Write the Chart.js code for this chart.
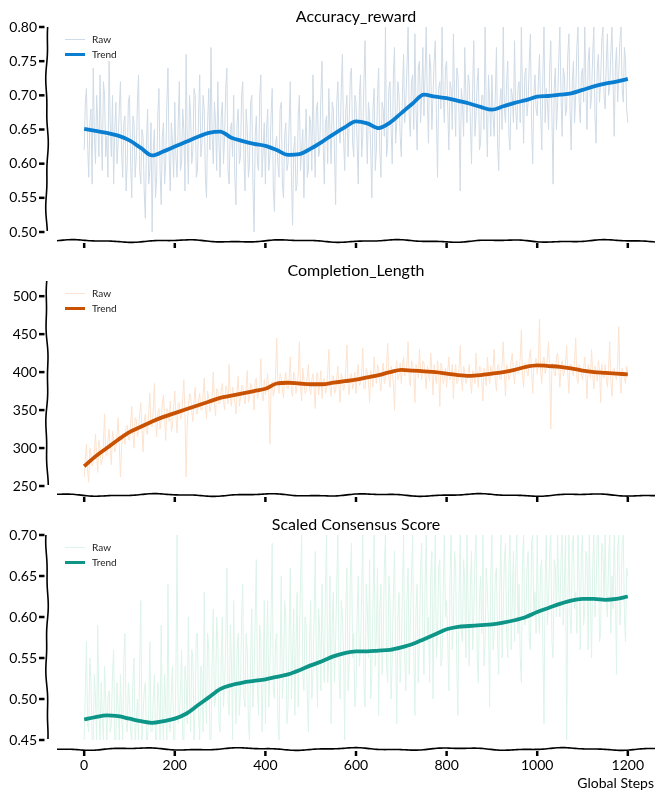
<!DOCTYPE html>
<html>
<head>
<meta charset="utf-8">
<script src="https://cdn.jsdelivr.net/npm/chart.js@4.4.1/dist/chart.umd.min.js"></script>
<style>
  html, body { margin: 0; padding: 0; background: #fff; }
  #wrap { position: relative; width: 655px; height: 792px; }
  canvas { position: absolute; left: 0; }
</style>
</head>
<body>
<div id="wrap">
  <canvas id="accChart" width="655" height="254" style="top:0"></canvas>
  <canvas id="lenChart" width="655" height="254" style="top:254px"></canvas>
  <canvas id="consChart" width="655" height="284" style="top:508px"></canvas>
</div>
<script>
const FONT = "'Comic Sans MS', 'Humor Sans', Lato, sans-serif";

// x positions: raw read every 2.5 steps, trend every 25 steps
const rawSteps = Array.from({ length: 481 }, (_, i) => i * 2.5);
const trendSteps = Array.from({ length: 49 }, (_, i) => i * 25);
const xTicks = [0, 200, 400, 600, 800, 1000, 1200];

// one row = 50 steps
const accRaw = [
  0.62,0.69, 0.71,0.63, 0.58,0.66, 0.68,0.57, 0.74,0.64, 0.60,0.70, 0.66,0.61, 0.73,0.65, 0.59,0.72, 0.70,0.61,
  0.64,0.58, 0.75,0.66, 0.61,0.70, 0.57,0.65, 0.69,0.60, 0.63,0.68, 0.72,0.62, 0.58,0.66, 0.67,0.56, 0.60,0.69,
  0.70,0.60, 0.55,0.67, 0.66,0.58, 0.61,0.69, 0.73,0.59, 0.57,0.65, 0.64,0.56, 0.52,0.63, 0.68,0.57, 0.59,0.66,
  0.50,0.62, 0.65,0.55, 0.58,0.67, 0.71,0.59, 0.54,0.64, 0.66,0.57, 0.60,0.69, 0.74,0.61, 0.56,0.66, 0.63,0.58,
  0.69,0.61, 0.58,0.66, 0.72,0.59, 0.60,0.68, 0.65,0.56, 0.76,0.63, 0.57,0.70, 0.67,0.60, 0.62,0.71, 0.70,0.58,
  0.59,0.67, 0.73,0.61, 0.63,0.70, 0.68,0.58, 0.55,0.66, 0.71,0.62, 0.77,0.64, 0.60,0.69, 0.66,0.59, 0.72,0.63,
  0.58,0.67, 0.69,0.60, 0.64,0.71, 0.74,0.59, 0.57,0.65, 0.66,0.61, 0.70,0.58, 0.54,0.66, 0.68,0.60, 0.61,0.70,
  0.72,0.61, 0.56,0.68, 0.65,0.58, 0.60,0.69, 0.70,0.57, 0.50,0.64, 0.67,0.60, 0.59,0.70, 0.73,0.58, 0.62,0.66,
  0.57,0.65, 0.68,0.59, 0.61,0.67, 0.71,0.56, 0.53,0.63, 0.64,0.60, 0.58,0.68, 0.69,0.57, 0.55,0.64, 0.66,0.59,
  0.60,0.66, 0.72,0.58, 0.51,0.62, 0.64,0.56, 0.57,0.67, 0.70,0.59, 0.62,0.65, 0.55,0.63, 0.68,0.58, 0.59,0.67,
  0.66,0.59, 0.73,0.64, 0.58,0.68, 0.69,0.61, 0.62,0.70, 0.75,0.63, 0.57,0.66, 0.67,0.60, 0.71,0.65, 0.60,0.69,
  0.68,0.62, 0.54,0.69, 0.72,0.65, 0.63,0.71, 0.76,0.64, 0.59,0.68, 0.70,0.61, 0.66,0.73, 0.74,0.63, 0.61,0.70,
  0.69,0.63, 0.57,0.70, 0.73,0.61, 0.64,0.72, 0.78,0.66, 0.60,0.69, 0.67,0.62, 0.55,0.68, 0.71,0.59, 0.62,0.70,
  0.74,0.62, 0.58,0.69, 0.68,0.64, 0.80,0.61, 0.63,0.71, 0.72,0.65, 0.60,0.73, 0.77,0.63, 0.66,0.72, 0.70,0.64,
  0.61,0.70, 0.76,0.66, 0.69,0.74, 0.80,0.67, 0.64,0.72, 0.73,0.65, 0.79,0.68, 0.62,0.74, 0.75,0.66, 0.70,0.77,
  0.67,0.73, 0.80,0.69, 0.63,0.76, 0.74,0.65, 0.70,0.75, 0.78,0.67, 0.58,0.71, 0.72,0.68, 0.80,0.70, 0.66,0.74,
  0.75,0.68, 0.62,0.72, 0.71,0.65, 0.79,0.70, 0.64,0.74, 0.73,0.67, 0.56,0.71, 0.69,0.64, 0.77,0.70, 0.66,0.73,
  0.72,0.66, 0.60,0.71, 0.78,0.64, 0.67,0.72, 0.74,0.62, 0.63,0.70, 0.70,0.65, 0.80,0.68, 0.61,0.73, 0.69,0.64,
  0.73,0.67, 0.64,0.70, 0.77,0.63, 0.59,0.69, 0.71,0.65, 0.80,0.68, 0.66,0.72, 0.75,0.64, 0.62,0.71, 0.70,0.66,
  0.78,0.68, 0.65,0.71, 0.72,0.66, 0.80,0.70, 0.63,0.73, 0.74,0.67, 0.69,0.75, 0.79,0.66, 0.60,0.70, 0.73,0.68,
  0.67,0.72, 0.76,0.68, 0.62,0.73, 0.80,0.66, 0.71,0.69, 0.65,0.74, 0.78,0.67, 0.57,0.71, 0.74,0.65, 0.69,0.75,
  0.80,0.70, 0.64,0.74, 0.73,0.67, 0.68,0.76, 0.79,0.68, 0.62,0.72, 0.75,0.66, 0.70,0.77, 0.80,0.69, 0.66,0.73,
  0.74,0.69, 0.80,0.71, 0.65,0.75, 0.77,0.68, 0.70,0.76, 0.80,0.67, 0.63,0.74, 0.76,0.69, 0.72,0.78, 0.80,0.70,
  0.68,0.75, 0.79,0.70, 0.71,0.76, 0.80,0.72, 0.64,0.74, 0.77,0.69, 0.73,0.78, 0.80,0.71, 0.69,0.77, 0.75,0.68,
  0.66
];
const accTrend = [
  0.651, 0.648, 0.645, 0.641, 0.634, 0.623, 0.612, 0.618, 0.625, 0.632,
  0.639, 0.645, 0.647, 0.638, 0.633, 0.629, 0.626, 0.620, 0.613, 0.614,
  0.622, 0.632, 0.643, 0.653, 0.662, 0.659, 0.652, 0.660, 0.674, 0.688,
  0.701, 0.698, 0.696, 0.692, 0.688, 0.683, 0.679, 0.684, 0.689, 0.693,
  0.698, 0.699, 0.701, 0.703, 0.708, 0.713, 0.717, 0.720, 0.724
];

const lenRaw = [
  262,285, 305,270, 255,300, 290,276, 280,295, 318,288, 268,310, 300,278, 285,305, 345,292,
  290,310, 325,298, 278,322, 312,295, 300,318, 340,305, 262,300, 320,315, 305,328, 330,312,
  310,332, 355,318, 300,340, 338,315, 322,345, 360,325, 295,335, 345,320, 318,348, 372,330,
  328,350, 385,338, 315,345, 352,325, 336,358, 370,340, 310,352, 348,335, 362,322, 330,355,
  375,342, 320,360, 358,338, 340,365, 390,345, 262,330, 352,372, 368,348, 335,362, 380,345,
  345,362, 372,350, 350,370, 392,355, 338,375, 365,348, 355,368, 400,360, 342,378, 375,358,
  360,375, 385,362, 350,382, 378,358, 410,368, 355,380, 372,360, 345,376, 395,355, 365,382,
  382,368, 358,378, 402,360, 366,385, 380,372, 350,388, 392,365, 372,380, 418,370, 362,390,
  370,385, 398,372, 305,380, 388,368, 376,395, 445,382, 372,398, 392,378, 366,390, 400,380,
  378,392, 420,375, 368,400, 395,372, 383,398, 440,380, 362,405, 390,372, 375,395, 410,378,
  370,390, 398,378, 352,395, 400,370, 385,402, 365,388, 392,372, 378,398, 430,380, 368,395,
  395,372, 375,392, 408,380, 360,398, 392,376, 380,405, 436,382, 370,396, 398,378, 385,400,
  372,395, 410,382, 385,400, 432,378, 378,405, 400,388, 360,402, 395,380, 420,398, 385,410,
  405,388, 375,400, 412,385, 392,410, 438,392, 380,408, 400,385, 350,402, 415,390, 395,412,
  385,408, 420,395, 398,412, 440,390, 382,415, 410,398, 360,410, 405,392, 430,405, 390,415,
  412,395, 378,408, 400,388, 425,402, 370,410, 395,385, 415,398, 355,412, 405,385, 392,405,
  380,402, 420,390, 395,410, 365,398, 410,385, 388,405, 435,392, 375,408, 400,385, 390,400,
  410,388, 372,402, 398,385, 425,398, 380,408, 405,390, 362,405, 395,382, 420,398, 385,408,
  395,405, 430,390, 375,408, 410,392, 390,412, 440,398, 368,410, 405,390, 395,415, 425,400,
  385,408, 415,398, 400,418, 455,395, 380,412, 410,400, 395,420, 430,402, 372,410, 412,418,
  398,412, 470,400, 385,415, 420,398, 405,418, 440,402, 325,412, 410,398, 395,420, 425,405,
  380,408, 415,395, 400,412, 435,398, 372,410, 410,400, 395,415, 445,392, 385,410, 405,398,
  390,405, 420,395, 365,410, 405,392, 430,398, 378,408, 400,388, 415,402, 360,410, 395,392,
  410,392, 380,405, 440,388, 368,402, 405,395, 390,410, 460,390, 372,405, 400,392, 385,408,
  400
];
const lenTrend = [
  276, 289, 300, 311, 321, 328, 335, 341, 346, 351,
  356, 361, 366, 369, 372, 375, 378, 385, 386, 385,
  384, 384, 386, 388, 390, 393, 396, 400, 403, 402,
  401, 400, 398, 396, 395, 396, 398, 400, 403, 407,
  409, 408, 407, 405, 402, 400, 399, 398, 397
];

const consRaw = [
  0.45,0.51, 0.57,0.47, 0.46,0.55, 0.52,0.45, 0.45,0.53, 0.50,0.45, 0.59,0.49, 0.45,0.52, 0.48,0.45, 0.54,0.50,
  0.45,0.50, 0.51,0.46, 0.47,0.53, 0.56,0.45, 0.45,0.52, 0.49,0.45, 0.53,0.48, 0.45,0.55, 0.58,0.47, 0.46,0.52,
  0.50,0.46, 0.45,0.52, 0.55,0.45, 0.47,0.50, 0.45,0.54, 0.62,0.45, 0.48,0.51, 0.52,0.45, 0.45,0.49, 0.57,0.46,
  0.46,0.50, 0.53,0.45, 0.45,0.52, 0.50,0.45, 0.59,0.48, 0.45,0.53, 0.49,0.45, 0.64,0.47, 0.46,0.51, 0.54,0.45,
  0.45,0.53, 0.70,0.47, 0.48,0.51, 0.56,0.45, 0.45,0.54, 0.52,0.47, 0.60,0.50, 0.46,0.56, 0.55,0.45, 0.49,0.58,
  0.58,0.48, 0.45,0.54, 0.53,0.46, 0.63,0.51, 0.47,0.58, 0.56,0.45, 0.45,0.55, 0.61,0.49, 0.50,0.60, 0.57,0.47,
  0.46,0.55, 0.60,0.49, 0.52,0.57, 0.66,0.50, 0.48,0.59, 0.55,0.45, 0.62,0.52, 0.47,0.56, 0.58,0.48, 0.51,0.60,
  0.64,0.50, 0.49,0.58, 0.56,0.47, 0.45,0.55, 0.61,0.49, 0.53,0.60, 0.67,0.51, 0.48,0.59, 0.57,0.46, 0.52,0.62,
  0.47,0.56, 0.62,0.49, 0.54,0.60, 0.69,0.51, 0.50,0.57, 0.58,0.48, 0.45,0.55, 0.65,0.50, 0.53,0.62, 0.60,0.47,
  0.49,0.58, 0.66,0.50, 0.55,0.61, 0.48,0.56, 0.63,0.49, 0.57,0.64, 0.70,0.53, 0.51,0.60, 0.59,0.50, 0.46,0.57,
  0.62,0.50, 0.53,0.60, 0.68,0.55, 0.49,0.61, 0.58,0.51, 0.64,0.57, 0.52,0.63, 0.70,0.52, 0.55,0.65, 0.47,0.59,
  0.63,0.52, 0.57,0.64, 0.70,0.53, 0.50,0.62, 0.60,0.56, 0.45,0.61, 0.66,0.51, 0.54,0.65, 0.69,0.55, 0.58,0.49,
  0.51,0.60, 0.65,0.54, 0.56,0.63, 0.70,0.52, 0.49,0.64, 0.61,0.55, 0.67,0.50, 0.53,0.62, 0.70,0.54, 0.58,0.66,
  0.48,0.61, 0.64,0.53, 0.57,0.66, 0.70,0.54, 0.52,0.65, 0.62,0.50, 0.55,0.63, 0.68,0.56, 0.47,0.60, 0.63,0.52,
  0.56,0.63, 0.70,0.55, 0.51,0.62, 0.66,0.53, 0.59,0.65, 0.70,0.56, 0.48,0.61, 0.64,0.52, 0.57,0.66, 0.69,0.58,
  0.53,0.64, 0.70,0.57, 0.60,0.52, 0.65,0.68, 0.50,0.62, 0.70,0.55, 0.58,0.66, 0.67,0.54, 0.55,0.63, 0.70,0.60,
  0.62,0.57, 0.51,0.65, 0.70,0.56, 0.59,0.68, 0.66,0.54, 0.48,0.63, 0.70,0.58, 0.57,0.67, 0.64,0.55, 0.70,0.61,
  0.54,0.64, 0.68,0.56, 0.60,0.67, 0.70,0.55, 0.52,0.62, 0.65,0.58, 0.70,0.54, 0.57,0.66, 0.63,0.59, 0.49,0.65,
  0.70,0.56, 0.58,0.65, 0.66,0.57, 0.53,0.64, 0.70,0.55, 0.61,0.67, 0.69,0.58, 0.55,0.66, 0.70,0.56, 0.62,0.68,
  0.57,0.66, 0.70,0.58, 0.64,0.55, 0.52,0.67, 0.70,0.59, 0.60,0.66, 0.68,0.57, 0.56,0.69, 0.70,0.60, 0.63,0.58,
  0.70,0.61, 0.58,0.66, 0.67,0.56, 0.47,0.64, 0.70,0.59, 0.62,0.68, 0.70,0.57, 0.55,0.67, 0.66,0.60, 0.70,0.63,
  0.60,0.67, 0.70,0.59, 0.64,0.70, 0.45,0.62, 0.70,0.60, 0.58,0.69, 0.70,0.61, 0.63,0.58, 0.70,0.65, 0.56,0.68,
  0.70,0.59, 0.61,0.68, 0.67,0.56, 0.70,0.62, 0.55,0.66, 0.70,0.60, 0.63,0.70, 0.70,0.57, 0.58,0.69, 0.68,0.62,
  0.70,0.62, 0.60,0.67, 0.70,0.58, 0.65,0.61, 0.70,0.64, 0.53,0.68, 0.70,0.59, 0.62,0.69, 0.70,0.60, 0.57,0.66,
  0.65
];
const consTrend = [
  0.475, 0.478, 0.480, 0.479, 0.476, 0.473, 0.471, 0.473, 0.476, 0.482,
  0.492, 0.502, 0.512, 0.517, 0.520, 0.522, 0.524, 0.527, 0.530, 0.535,
  0.541, 0.546, 0.552, 0.556, 0.558, 0.558, 0.559, 0.560, 0.563, 0.567,
  0.573, 0.579, 0.585, 0.588, 0.589, 0.590, 0.591, 0.593, 0.596, 0.600,
  0.606, 0.611, 0.616, 0.620, 0.622, 0.622, 0.621, 0.622, 0.625
];

function toPoints(xs, ys) {
  return ys.map((y, i) => ({ x: xs[i], y: y }));
}

// hand-drawn looking spines, tick marks, title and legend
const sketchFrame = {
  id: 'sketchFrame',
  afterDraw(chart, args, opts) {
    const ctx = chart.ctx;
    const area = chart.chartArea;
    const xScale = chart.scales.x;
    const yScale = chart.scales.y;
    const sx = area.left - 10;
    const by = area.bottom + 9;

    ctx.save();
    ctx.strokeStyle = '#000';
    ctx.fillStyle = '#000';
    ctx.lineJoin = 'round';

    ctx.lineWidth = 1.6;
    ctx.beginPath();
    for (let y = area.top; y <= area.bottom + 0.5; y += 2) {
      const dx = 0.9 * Math.sin(y / 19 + opts.phase) + 0.4 * Math.sin(y / 7);
      if (y === area.top) ctx.moveTo(sx + dx, y); else ctx.lineTo(sx + dx, y);
    }
    ctx.stroke();

    ctx.beginPath();
    for (let x = area.left; x <= chart.width; x += 2) {
      const dy = 1.0 * Math.sin(x / 17 + opts.phase) + 0.4 * Math.sin(x / 6.5);
      if (x === area.left) ctx.moveTo(x, by + dy); else ctx.lineTo(x, by + dy);
    }
    ctx.stroke();

    ctx.lineWidth = 2.5;
    yScale.ticks.forEach(t => {
      const py = yScale.getPixelForValue(t.value);
      ctx.beginPath();
      ctx.moveTo(sx - 8, py);
      ctx.lineTo(sx - 2.5, py);
      ctx.stroke();
    });
    xTicks.forEach(v => {
      const px = xScale.getPixelForValue(v);
      ctx.beginPath();
      ctx.moveTo(px, by + 2);
      ctx.lineTo(px, by + 7);
      ctx.stroke();
    });

    ctx.textAlign = 'center';
    ctx.textBaseline = 'middle';
    ctx.font = '16px ' + FONT;
    ctx.fillText(opts.title, (area.left + area.right) / 2, area.top - 10);

    // legend
    ctx.textAlign = 'left';
    ctx.font = '10px ' + FONT;
    const lx = area.left + 8;
    const rows = [
      { text: 'Raw', color: opts.rawColor, width: 1, y: area.top + 12.5 },
      { text: 'Trend', color: opts.trendColor, width: 3, y: area.top + 27.5 }
    ];
    rows.forEach(r => {
      ctx.strokeStyle = r.color;
      ctx.lineWidth = r.width;
      ctx.beginPath();
      ctx.moveTo(lx, r.y);
      ctx.lineTo(lx + 20, r.y);
      ctx.stroke();
      ctx.fillStyle = '#222';
      ctx.fillText(r.text, lx + 27, r.y);
    });

    if (opts.xLabel) {
      ctx.fillStyle = '#000';
      ctx.textAlign = 'right';
      ctx.font = '14px ' + FONT;
      ctx.fillText(opts.xLabel, chart.width - 1, chart.height - 9);
    }
    ctx.restore();
  }
};

function makeChart(id, cfg) {
  const canvas = document.getElementById(id);
  return new Chart(canvas, {
    type: 'line',
    data: {
      datasets: [
        {
          label: 'Raw',
          data: toPoints(rawSteps, cfg.raw),
          borderColor: cfg.rawColor,
          borderWidth: 1,
          pointRadius: 0,
          tension: 0,
          order: 2
        },
        {
          label: 'Trend',
          data: toPoints(trendSteps, cfg.trend),
          borderColor: cfg.trendColor,
          borderWidth: 3.8,
          pointRadius: 0,
          cubicInterpolationMode: 'monotone',
          order: 1
        }
      ]
    },
    options: {
      responsive: false,
      animation: false,
      devicePixelRatio: 1,
      layout: { padding: { top: 27, left: 0, right: 0, bottom: 0 } },
      plugins: {
        legend: { display: false },
        tooltip: { enabled: false },
        sketchFrame: {
          title: cfg.title,
          rawColor: cfg.rawColor,
          trendColor: cfg.trendColor,
          xLabel: cfg.xLabel,
          phase: cfg.phase
        }
      },
      scales: {
        x: {
          type: 'linear',
          min: -60,
          max: 1260,
          grid: { display: false, drawTicks: false },
          border: { display: false },
          ticks: {
            stepSize: 200,
            includeBounds: false,
            padding: 17,
            maxRotation: 0,
            autoSkip: false,
            color: cfg.showX ? '#000' : 'rgba(0,0,0,0)',
            font: { family: FONT, size: 14 },
            callback: v => String(v)
          },
          afterFit(scale) {
            scale.height = canvas.height - 232;
            scale.paddingLeft = 0;
            scale.paddingRight = 0;
          }
        },
        y: {
          min: cfg.yMin,
          max: cfg.yMax,
          grid: { display: false, drawTicks: false },
          border: { display: false },
          ticks: {
            stepSize: cfg.yStep,
            includeBounds: false,
            padding: 20,
            color: '#000',
            font: { family: FONT, size: 14 },
            callback: v => v.toFixed(cfg.digits)
          },
          afterFit(scale) {
            scale.width = 57;
            scale.paddingTop = 0;
            scale.paddingBottom = 0;
          }
        }
      }
    },
    plugins: [sketchFrame]
  });
}

makeChart('accChart', {
  title: 'Accuracy_reward', raw: accRaw, trend: accTrend,
  rawColor: '#cfdbe6', trendColor: '#0a7fd2',
  yMin: 0.5, yMax: 0.8, yStep: 0.05, digits: 2, showX: false, phase: 0.3
});
makeChart('lenChart', {
  title: 'Completion_Length', raw: lenRaw, trend: lenTrend,
  rawColor: '#fde3cf', trendColor: '#c95102',
  yMin: 250, yMax: 520, yStep: 50, digits: 0, showX: false, phase: 1.7
});
makeChart('consChart', {
  title: 'Scaled Consensus Score', raw: consRaw, trend: consTrend,
  rawColor: '#dcf4ea', trendColor: '#0d9588',
  yMin: 0.45, yMax: 0.7, yStep: 0.05, digits: 2, showX: true, phase: 2.9,
  xLabel: 'Global Steps'
});
</script>
</body>
</html>
